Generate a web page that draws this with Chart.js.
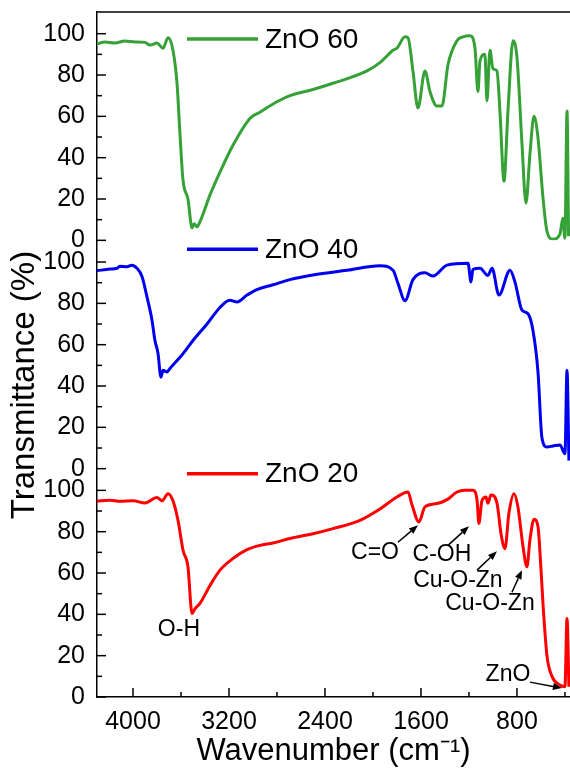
<!DOCTYPE html>
<html>
<head>
<meta charset="utf-8">
<script src="https://cdn.jsdelivr.net/npm/chart.js@4"></script>
<style>
html, body { margin: 0; padding: 0; background: #fff; overflow: hidden; }
#wrap { width: 570px; height: 770px; }
</style>
</head>
<body>
<div id="wrap"><canvas id="ftir"></canvas></div>
<script>
// wavenumber (cm-1) and transmittance (%)
const wn60 = [4300, 4233, 4150, 4067, 3983, 3900, 3858, 3800, 3750, 3708, 3667, 3633, 3608, 3583, 3542, 3508,
    3490, 3467, 3442, 3358, 3275, 3167, 3025, 2942, 2833, 2692, 2500, 2333, 2050, 1942, 1833, 1800,
    1733, 1708, 1667, 1625, 1567, 1525, 1467, 1425, 1375, 1300, 1250, 1192, 1150, 1125, 1108, 1067,
    1050, 1025, 1000, 967, 942, 908, 875, 833, 800, 758, 725, 692, 658, 625, 583, 550, 500, 442, 417,
    400, 383, 370];
const t60 = [95, 96, 95.5, 96.5, 96, 95.8, 94.5, 95.5, 93, 98, 92, 76, 51, 29, 20, 6,
    8, 6.5, 9, 22, 33, 46, 59, 62, 66, 70, 73, 76, 82, 86, 92, 93,
    98.5, 98, 82, 64, 82, 72, 65, 65, 85, 96.6, 98.5, 99, 93, 72, 87, 90,
    67.5, 92, 83, 82, 62.6, 28.6, 62.6, 96.6, 88.5, 46.6, 18, 41.7, 60, 49.7, 20.5, 4.4, 0.5, 3, 10.7,
    1, 62.6, 2];

const wn40 = [4300, 4192, 4133, 4108, 4050, 4008, 3967, 3925, 3883, 3842, 3817, 3792, 3767, 3750, 3717, 3692,
    3592, 3500, 3383, 3275, 3192, 3133, 3050, 2967, 2833, 2692, 2500, 2217, 1942, 1833, 1792, 1733,
    1667, 1567, 1500, 1383, 1208, 1183, 1167, 1108, 1042, 1008, 950, 858, 817, 758, 708, 667, 625,
    592, 550, 500, 442, 400, 383, 367];
const t40 = [95.8, 96.6, 97, 98, 97.7, 98.5, 97, 93, 83, 72, 62, 56, 44.3, 47.6, 46.8, 48.5,
    55, 62, 70, 78, 81.5, 80.7, 84, 86.7, 89, 91.5, 93.7, 96, 98.2, 96, 89.7, 81.3,
    91.5, 94.8, 93.2, 98.5, 99.4, 90.4, 96.5, 97, 93.5, 97, 84, 96, 90.4, 76.7, 75, 67, 47,
    15, 10.5, 11, 11.5, 7.2, 47.6, 3.9];

const wn20 = [4300, 4192, 4108, 4000, 3900, 3800, 3758, 3708, 3667, 3625, 3583, 3542, 3508, 3483, 3442, 3358,
    3275, 3167, 3050, 2942, 2833, 2692, 2500, 2333, 2108, 1942, 1800, 1708, 1675, 1617, 1567, 1467,
    1383, 1300, 1233, 1167, 1133, 1117, 1092, 1058, 1042, 1017, 967, 933, 900, 867, 825, 792, 750,
    717, 692, 658, 625, 600, 583, 550, 508, 442, 400, 383, 367];
const t20 = [94.8, 95.2, 94.7, 95, 93.9, 96.5, 95, 98.4, 95, 85.5, 71, 63, 40.4, 42.8, 45.3, 54,
    61.4, 67, 71.3, 73.4, 74.5, 76.7, 79, 81.5, 85.5, 91, 96.8, 99.2, 93, 84.7, 92, 93.6,
    95.5, 99.2, 100, 100, 95.5, 84, 95, 96.8, 93.8, 97.8, 94, 79, 71.8, 89, 98.4, 92, 73,
    63, 76, 86, 82.5, 62, 45, 20, 10, 5.8, 5, 38, 5];

const seriesNames = ['ZnO 60', 'ZnO 40', 'ZnO 20'];
const xTicks = [4000, 3200, 2400, 1600, 800];
const xMinor = [3600, 2800, 2000, 1200, 400];
const yTicks = [0, 20, 40, 60, 80, 100];
const yMinor = [10, 30, 50, 70, 90];

// band assignments on the ZnO 20 trace
const bandText = ['O-H', 'C=O', 'C-OH', 'Cu-O-Zn', 'Cu-O-Zn', 'ZnO'];
const bandWn = [3617, 1983, 1425, 1292, 1025, 875];
const bandT = [32.4, 70, 69, 56.5, 45, 10.6];
// arrows: [fromWn, fromT, toWn, toT]
const bandArrows = [
    [1792, 74.9, 1625, 83.1],
    [1375, 73.4, 1200, 82.6],
    [1133, 61.4, 967, 70.5],
    [842, 50.7, 758, 61.4],
    [692, 7.2, 425, 4.3]
];

const FONT = "'Liberation Sans', Arial, sans-serif";
const colors = ['#36a136', '#0000f0', '#ff0000'];
const axisIds = ['yG', 'yB', 'yR'];

function pts(wn, t) {
    return wn.map((w, i) => ({ x: w, y: t[i] }));
}

function yAxis() {
    return {
        type: 'linear',
        position: 'left',
        stack: 'panels',
        stackWeight: 1,
        min: 0,
        max: 110.5,
        afterBuildTicks: s => { s.ticks = yTicks.map(v => ({ value: v })); },
        afterFit: s => { s.width = 97; s.paddingTop = 0; s.paddingBottom = 0; },
        grid: { display: false, drawTicks: false },
        border: { display: true, color: '#000', width: 1.5 },
        ticks: {
            color: '#000', padding: 12, autoSkip: false,
            callback: v => String(v),
            font: { family: FONT, size: 25 }
        }
    };
}

function line(ctx, x1, y1, x2, y2) {
    ctx.beginPath();
    ctx.moveTo(x1, y1);
    ctx.lineTo(x2, y2);
    ctx.stroke();
}

function arrow(ctx, x1, y1, x2, y2) {
    const a = Math.atan2(y2 - y1, x2 - x1);
    const len = 9, half = 3.5;
    const bx = x2 - len * Math.cos(a), by = y2 - len * Math.sin(a);
    line(ctx, x1, y1, bx, by);
    ctx.beginPath();
    ctx.moveTo(x2, y2);
    ctx.lineTo(bx + half * Math.sin(a), by - half * Math.cos(a));
    ctx.lineTo(bx - half * Math.sin(a), by + half * Math.cos(a));
    ctx.closePath();
    ctx.fill();
}

const decor = {
    id: 'decor',
    afterDatasetsDraw(chart) {
        const ctx = chart.ctx;
        const area = chart.chartArea;
        const xs = chart.scales.x;
        ctx.save();
        ctx.strokeStyle = '#000';
        ctx.fillStyle = '#000';
        ctx.lineWidth = 1.5;

        // top frame
        line(ctx, area.left, area.top, area.right + 5, area.top);

        // inward ticks
        axisIds.forEach(id => {
            const s = chart.scales[id];
            yTicks.forEach(v => { const p = s.getPixelForValue(v); line(ctx, area.left, p, area.left + 9, p); });
            yMinor.forEach(v => { const p = s.getPixelForValue(v); line(ctx, area.left, p, area.left + 5, p); });
        });
        xTicks.forEach(v => { const p = xs.getPixelForValue(v); line(ctx, p, area.bottom, p, area.bottom - 9); });
        xMinor.forEach(v => { const p = xs.getPixelForValue(v); line(ctx, p, area.bottom, p, area.bottom - 5); });

        // one legend entry per panel
        const legendDrop = [27, 9, 5];
        axisIds.forEach((id, i) => {
            const s = chart.scales[id];
            const y = s.top + legendDrop[i];
            ctx.save();
            ctx.strokeStyle = colors[i];
            ctx.lineWidth = 3.5;
            line(ctx, 187, y, 258, y);
            ctx.restore();
            ctx.font = '28px ' + FONT;
            ctx.textAlign = 'left';
            ctx.textBaseline = 'middle';
            ctx.fillText(seriesNames[i], 265, y + 1);
        });

        // band labels and arrows
        const yr = chart.scales.yR;
        ctx.font = '23px ' + FONT;
        ctx.textAlign = 'center';
        ctx.textBaseline = 'middle';
        bandText.forEach((t, i) => {
            ctx.fillText(t, xs.getPixelForValue(bandWn[i]), yr.getPixelForValue(bandT[i]));
        });
        ctx.lineWidth = 1.5;
        bandArrows.forEach(a => {
            arrow(ctx, xs.getPixelForValue(a[0]), yr.getPixelForValue(a[1]),
                xs.getPixelForValue(a[2]), yr.getPixelForValue(a[3]));
        });

        // y title
        ctx.save();
        ctx.translate(25, 385);
        ctx.rotate(-Math.PI / 2);
        ctx.font = '33px ' + FONT;
        ctx.fillText('Transmittance (%)', 0, 0);
        ctx.restore();

        ctx.restore();
    }
};

const datasets = [
    { label: seriesNames[0], data: pts(wn60, t60), yAxisID: 'yG' },
    { label: seriesNames[1], data: pts(wn40, t40), yAxisID: 'yB' },
    { label: seriesNames[2], data: pts(wn20, t20), yAxisID: 'yR' }
].map((d, i) => ({
    ...d,
    borderColor: colors[i],
    backgroundColor: colors[i],
    borderWidth: 3,
    pointRadius: 0,
    cubicInterpolationMode: 'monotone'
}));

new Chart(document.getElementById('ftir'), {
    type: 'line',
    data: { datasets: datasets },
    options: {
        responsive: true,
        maintainAspectRatio: false,
        animation: false,
        layout: { padding: { top: 12, left: 0, right: 0, bottom: 0 } },
        plugins: { legend: { display: false }, tooltip: { enabled: false } },
        scales: {
            x: {
                type: 'linear',
                reverse: true,
                min: 358,
                max: 4300,
                afterBuildTicks: s => { s.ticks = xTicks.map(v => ({ value: v })); },
                afterFit: s => { s.height = 73; s.paddingLeft = 0; s.paddingRight = 0; },
                grid: { display: false, drawTicks: false },
                border: { display: true, color: '#000', width: 1.5 },
                ticks: {
                    color: '#000', padding: 10, maxRotation: 0, autoSkip: false,
                    callback: v => String(v),
                    font: { family: FONT, size: 25 }
                },
                title: {
                    display: true,
                    text: 'Wavenumber (cm⁻¹)',
                    color: '#000',
                    padding: { top: 0, bottom: 0 },
                    font: { family: FONT, size: 31 }
                }
            },
            yR: yAxis(),
            yB: yAxis(),
            yG: yAxis()
        }
    },
    plugins: [decor]
});
</script>
</body>
</html>
